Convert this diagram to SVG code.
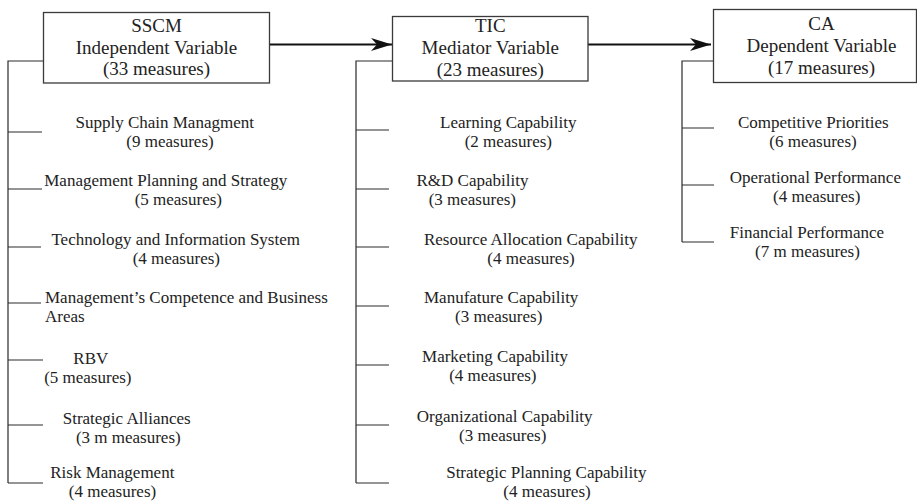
<svg xmlns="http://www.w3.org/2000/svg" width="917" height="502" viewBox="0 0 917 502">
<style>
  .box { fill: #ffffff; stroke: #3a3a3a; stroke-width: 1.3; }
  .ln { fill: none; stroke: #2a2a2a; stroke-width: 1.2; }
  .arr { fill: none; stroke: #111111; stroke-width: 2.2; }
  .bt { font-family: "Liberation Serif", "Times New Roman", serif; font-size: 19px; fill: #222222; text-anchor: middle; }
  .it { font-family: "Liberation Serif", "Times New Roman", serif; font-size: 17px; fill: #222222; text-anchor: middle; }
  .its { font-family: "Liberation Serif", "Times New Roman", serif; font-size: 17px; fill: #222222; text-anchor: start; }
</style>
<defs>
  <marker id="ah" viewBox="-22 -7 23 14" refX="0" refY="0" markerWidth="23" markerHeight="14" markerUnits="userSpaceOnUse" orient="auto">
    <path d="M0,0 L-21,-6.5 L-15,0 L-21,6.5 Z" fill="#111111"/>
  </marker>
</defs>
<rect width="917" height="502" fill="#ffffff"/>

<g id="connectors">
  <line class="arr" x1="270" y1="44.5" x2="392" y2="44.5" marker-end="url(#ah)"/>
  <line class="arr" x1="588" y1="44.5" x2="711" y2="44.5" marker-end="url(#ah)"/>
  <path class="ln" d="M43,61 H8 V483"/>
  <path class="ln" d="M8,132 H42 M8,189 H42 M8,247 H41 M8,303 H41 M8,360 H43 M8,425 H43 M8,483 H43"/>
  <path class="ln" d="M392,61 H356 V483"/>
  <path class="ln" d="M356,130 H389 M356,189 H389 M356,247 H389 M356,306 H389 M356,365 H389 M356,425 H389 M356,483 H389"/>
  <path class="ln" d="M714,61 H682 V242"/>
  <path class="ln" d="M682,128 H714 M682,185 H714 M682,242 H714"/>
</g>

<g id="node-sscm">
  <rect class="box" x="43.5" y="12.5" width="226" height="70.5"/>
  <text class="bt" x="156.5" y="32">SSCM</text>
  <text class="bt" x="156.5" y="54">Independent Variable</text>
  <text class="bt" x="156.5" y="75">(33 measures)</text>
</g>
<g id="node-tic">
  <rect class="box" x="392.5" y="16.5" width="195.5" height="64.5"/>
  <text class="bt" x="490.3" y="32">TIC</text>
  <text class="bt" x="490.3" y="54">Mediator Variable</text>
  <text class="bt" x="490.3" y="75.5">(23 measures)</text>
</g>
<g id="node-ca">
  <rect class="box" x="713.5" y="9.5" width="203" height="73"/>
  <text class="bt" x="821.5" y="29.5">CA</text>
  <text class="bt" x="821.5" y="52">Dependent Variable</text>
  <text class="bt" x="821.5" y="74">(17 measures)</text>
</g>

<g id="node-scm">
  <text class="it" x="164.7" y="128">Supply Chain Managment</text>
  <text class="it" x="170" y="147">(9 measures)</text>
</g>
<g id="node-mps">
  <text class="it" x="165.8" y="186">Management Planning and Strategy</text>
  <text class="it" x="178.3" y="205">(5 measures)</text>
</g>
<g id="node-tis">
  <text class="it" x="175.7" y="245">Technology and Information System</text>
  <text class="it" x="176.3" y="264">(4 measures)</text>
</g>
<g id="node-mcba">
  <text class="its" x="45" y="303">Management’s Competence and Business</text>
  <text class="its" x="45" y="322">Areas</text>
</g>
<g id="node-rbv">
  <text class="it" x="90.8" y="364">RBV</text>
  <text class="it" x="87.8" y="383">(5 measures)</text>
</g>
<g id="node-sa">
  <text class="it" x="126.7" y="424">Strategic Alliances</text>
  <text class="it" x="128.3" y="443">(3 m measures)</text>
</g>
<g id="node-rm">
  <text class="it" x="112.3" y="478">Risk Management</text>
  <text class="it" x="112.5" y="497">(4 measures)</text>
</g>

<g id="node-lc">
  <text class="it" x="508.3" y="128">Learning Capability</text>
  <text class="it" x="508.3" y="147">(2 measures)</text>
</g>
<g id="node-rdc">
  <text class="it" x="472.5" y="186">R&amp;D Capability</text>
  <text class="it" x="472.3" y="205">(3 measures)</text>
</g>
<g id="node-rac">
  <text class="it" x="530.7" y="245">Resource Allocation Capability</text>
  <text class="it" x="531" y="264">(4 measures)</text>
</g>
<g id="node-mfc">
  <text class="it" x="501.2" y="303">Manufature Capability</text>
  <text class="it" x="498.7" y="322">(3 measures)</text>
</g>
<g id="node-mkc">
  <text class="it" x="495" y="362">Marketing Capability</text>
  <text class="it" x="492.8" y="381">(4 measures)</text>
</g>
<g id="node-oc">
  <text class="it" x="504.7" y="422">Organizational Capability</text>
  <text class="it" x="502.7" y="441">(3 measures)</text>
</g>
<g id="node-spc">
  <text class="it" x="546.3" y="478">Strategic Planning Capability</text>
  <text class="it" x="547" y="497">(4 measures)</text>
</g>

<g id="node-cp">
  <text class="it" x="813.3" y="128">Competitive Priorities</text>
  <text class="it" x="813" y="147">(6 measures)</text>
</g>
<g id="node-op">
  <text class="it" x="815.3" y="183">Operational Performance</text>
  <text class="it" x="816.7" y="202">(4 measures)</text>
</g>
<g id="node-fp">
  <text class="it" x="807" y="238">Financial Performance</text>
  <text class="it" x="807.5" y="257">(7 m measures)</text>
</g>
</svg>
